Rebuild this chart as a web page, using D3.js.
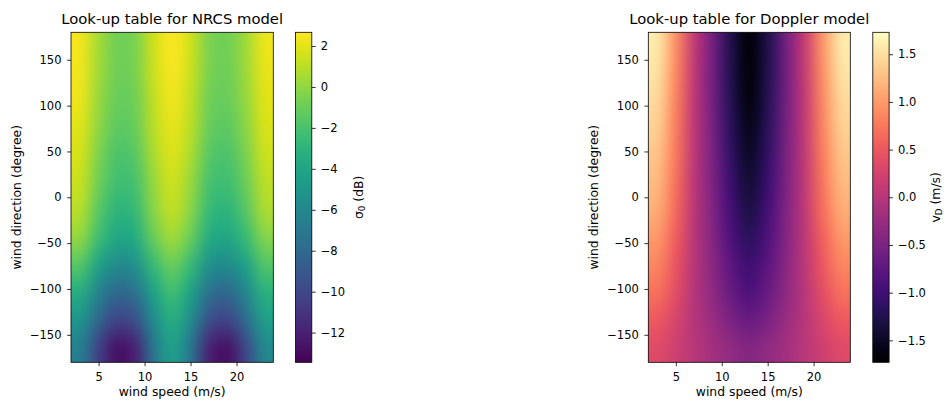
<!DOCTYPE html>
<html>
<head>
<meta charset="utf-8">
<script src="https://d3js.org/d3.v7.min.js"></script>
<style>
  body { margin: 0; background: #fff; }
  text { font-family: "DejaVu Sans", sans-serif; fill: #000; }
</style>
</head>
<body>
<div id="chart"></div>
<script>
// grid of the look-up tables (cell centres)
var speeds = [3, 5, 7, 9, 11, 13, 15, 17, 19, 21, 23];
var directions = [-165, -135, -105, -75, -45, -15, 15, 45, 75, 105, 135, 165];

// NRCS sigma0 (dB), one row per direction (bottom to top)
var nrcs = [
  [-6.6, -10.3, -12.8, -11.9, -7.1, -4.3, -7.1, -11.9, -12.8, -10.0, -6.0],
  [-5.1, -8.2, -10.3, -9.6, -5.7, -3.4, -5.7, -9.6, -10.3, -7.9, -4.5],
  [-3.6, -6.3, -8.1, -7.5, -4.2, -2.3, -4.2, -7.5, -8.1, -6.1, -3.2],
  [-1.7, -4.2, -5.8, -5.4, -2.6, -1.0, -2.6, -5.4, -5.8, -4.2, -1.8],
  [0.0, -2.4, -4.0, -3.6, -1.1, 0.4, -1.1, -3.6, -4.0, -2.6, -0.4],
  [0.9, -1.5, -3.0, -2.6, -0.2, 1.2, -0.2, -2.6, -3.0, -1.6, 0.6],
  [1.3, -0.9, -2.3, -2.0, 0.2, 1.5, 0.2, -2.0, -2.3, -1.0, 1.0],
  [1.6, -0.5, -1.9, -1.5, 0.6, 1.8, 0.6, -1.5, -1.9, -0.6, 1.4],
  [1.9, -0.1, -1.4, -1.0, 1.0, 2.1, 1.0, -1.0, -1.4, -0.2, 1.7],
  [2.2, 0.2, -1.1, -0.8, 1.2, 2.3, 1.2, -0.8, -1.1, 0.1, 1.9],
  [2.3, 0.4, -0.9, -0.6, 1.4, 2.5, 1.4, -0.6, -0.9, 0.3, 2.1],
  [2.4, 0.5, -0.8, -0.5, 1.5, 2.6, 1.5, -0.5, -0.8, 0.4, 2.2]
];

// Doppler velocity (m/s), one row per direction (bottom to top)
var doppler = [
  [0.36, 0.20, 0.01, -0.15, -0.31, -0.42, -0.31, -0.15, 0.02, 0.21, 0.36],
  [0.51, 0.28, -0.01, -0.24, -0.49, -0.65, -0.49, -0.24, 0.00, 0.30, 0.51],
  [0.69, 0.38, -0.01, -0.33, -0.66, -0.88, -0.66, -0.33, 0.00, 0.40, 0.69],
  [0.84, 0.47, 0.01, -0.37, -0.76, -1.02, -0.76, -0.37, 0.03, 0.50, 0.84],
  [0.98, 0.55, 0.02, -0.42, -0.87, -1.17, -0.87, -0.42, 0.04, 0.58, 0.98],
  [1.13, 0.64, 0.04, -0.45, -0.96, -1.30, -0.96, -0.45, 0.06, 0.68, 1.13],
  [1.22, 0.69, 0.04, -0.48, -1.04, -1.40, -1.04, -0.48, 0.07, 0.73, 1.22],
  [1.31, 0.75, 0.05, -0.51, -1.11, -1.50, -1.11, -0.51, 0.08, 0.79, 1.31],
  [1.39, 0.79, 0.06, -0.54, -1.17, -1.58, -1.17, -0.54, 0.09, 0.84, 1.39],
  [1.45, 0.83, 0.06, -0.56, -1.22, -1.65, -1.22, -0.56, 0.09, 0.88, 1.45],
  [1.52, 0.87, 0.08, -0.57, -1.25, -1.70, -1.25, -0.57, 0.11, 0.92, 1.52],
  [1.58, 0.92, 0.10, -0.56, -1.26, -1.72, -1.26, -0.56, 0.13, 0.97, 1.58]
];

var speedExtent = [2, 24];
var directionExtent = [-180, 180];
var speedTicks = [5, 10, 15, 20];
var directionTicks = [-150, -100, -50, 0, 50, 100, 150];
var nrcsRange = [-13.45, 2.67];
var nrcsTicks = [-12, -10, -8, -6, -4, -2, 0, 2];
var dopplerRange = [-1.73, 1.73];
var dopplerTicks = [-1.5, -1.0, -0.5, 0.0, 0.5, 1.0, 1.5];

var W = 944, H = 403;
var top0 = 32.3, bottom0 = 362.3;
var tickFont = 11.5, labelFont = 12.4, titleFont = 14.8;

var svg = d3.select("#chart")
  .append("svg")
    .attr("width", W)
    .attr("height", H);

// paint the table into a small canvas, then let the browser smooth it up
function fieldImage(values, color, w, h) {
  var small = document.createElement("canvas");
  small.width = speeds.length;
  small.height = directions.length;
  var ctx = small.getContext("2d");
  var col = d3.scaleBand().domain(speeds).range([0, speeds.length]);
  var row = d3.scaleBand().domain(directions).range([directions.length, 0]);
  values.forEach(function(r, j) {
    r.forEach(function(v, i) {
      ctx.fillStyle = color(v);
      ctx.fillRect(col(speeds[i]), row(directions[j]), 1, 1);
    });
  });
  var big = document.createElement("canvas");
  big.width = Math.round(w);
  big.height = Math.round(h);
  var bctx = big.getContext("2d");
  bctx.imageSmoothingEnabled = true;
  bctx.imageSmoothingQuality = "high";
  bctx.drawImage(small, 0, 0, big.width, big.height);
  return big.toDataURL();
}

function styleAxis(g) {
  g.select(".domain").remove();
  g.selectAll("line").attr("stroke", "#000").attr("stroke-width", 0.8);
  g.selectAll("text").attr("font-size", tickFont).attr("font-family", "DejaVu Sans").attr("fill", "#000");
}

function panel(p) {
  var x = d3.scaleLinear().domain(speedExtent).range([p.left, p.right]);
  var y = d3.scaleLinear().domain(directionExtent).range([bottom0, top0]);
  var color = d3.scaleSequential(p.interp).domain(p.range);
  var w = x(speedExtent[1]) - x(speedExtent[0]);
  var h = y(directionExtent[0]) - y(directionExtent[1]);

  svg.append("image")
    .attr("x", x(speedExtent[0]))
    .attr("y", y(directionExtent[1]))
    .attr("width", w)
    .attr("height", h)
    .attr("preserveAspectRatio", "none")
    .attr("href", fieldImage(p.values, color, w, h));

  // axes
  svg.append("g")
    .attr("transform", "translate(0," + bottom0 + ")")
    .call(d3.axisBottom(x).tickValues(speedTicks).tickSize(3.9).tickPadding(6.6).tickSizeOuter(0))
    .call(styleAxis);
  svg.append("g")
    .attr("transform", "translate(" + p.left + ",0)")
    .call(d3.axisLeft(y).tickValues(directionTicks).tickSize(3.9).tickPadding(5.6).tickSizeOuter(0))
    .call(styleAxis);

  svg.append("rect")
    .attr("x", p.left).attr("y", top0)
    .attr("width", p.right - p.left).attr("height", bottom0 - top0)
    .attr("fill", "none").attr("stroke", "#000").attr("stroke-width", 0.8);

  svg.append("text")
    .attr("x", (p.left + p.right) / 2).attr("y", 24)
    .attr("text-anchor", "middle").attr("font-size", titleFont)
    .text(p.title);

  svg.append("text")
    .attr("x", (p.left + p.right) / 2).attr("y", 396)
    .attr("text-anchor", "middle").attr("font-size", labelFont)
    .text("wind speed (m/s)");

  svg.append("text")
    .attr("transform", "translate(" + (p.left - 50) + "," + ((top0 + bottom0) / 2) + ") rotate(-90)")
    .attr("text-anchor", "middle").attr("font-size", labelFont)
    .text("wind direction (degree)");

  // colour bar
  var cb = d3.scaleLinear().domain(p.range).range([bottom0, top0]);
  var gradId = "grad-" + p.id;
  var grad = svg.append("defs").append("linearGradient")
    .attr("id", gradId)
    .attr("x1", 0).attr("y1", 1).attr("x2", 0).attr("y2", 0);
  d3.range(0, 1.0001, 0.02).forEach(function(t) {
    grad.append("stop").attr("offset", t).attr("stop-color", p.interp(t));
  });
  svg.append("rect")
    .attr("x", p.cbLeft).attr("y", top0)
    .attr("width", 16.3).attr("height", bottom0 - top0)
    .attr("fill", "url(#" + gradId + ")")
    .attr("stroke", "#000").attr("stroke-width", 0.8);
  svg.append("g")
    .attr("transform", "translate(" + (p.cbLeft + 16.3) + ",0)")
    .call(d3.axisRight(cb).tickValues(p.ticks).tickFormat(d3.format(p.fmt))
      .tickSize(3.9).tickPadding(5).tickSizeOuter(0))
    .call(styleAxis);

  var lab = svg.append("text")
    .attr("transform", "translate(" + p.labelX + "," + ((top0 + bottom0) / 2) + ") rotate(-90)")
    .attr("text-anchor", "middle").attr("font-size", labelFont);
  lab.append("tspan").text(p.sym);
  lab.append("tspan").attr("font-size", 8.7).attr("dy", 2.2).text(p.sub);
  lab.append("tspan").attr("dy", -2.2).text(" " + p.unit);
}

panel({
  id: "nrcs", left: 71, right: 273.3, cbLeft: 295.5,
  values: nrcs, interp: d3.interpolateViridis, range: nrcsRange,
  ticks: nrcsTicks, fmt: "d", title: "Look-up table for NRCS model",
  sym: "\u03c3", sub: "0", unit: "(dB)", labelX: 362.5
});

panel({
  id: "doppler", left: 648.3, right: 850.3, cbLeft: 872.8,
  values: doppler, interp: d3.interpolateMagma, range: dopplerRange,
  ticks: dopplerTicks, fmt: ".1f", title: "Look-up table for Doppler model",
  sym: "v", sub: "D", unit: "(m/s)", labelX: 940
});
</script>
</body>
</html>
